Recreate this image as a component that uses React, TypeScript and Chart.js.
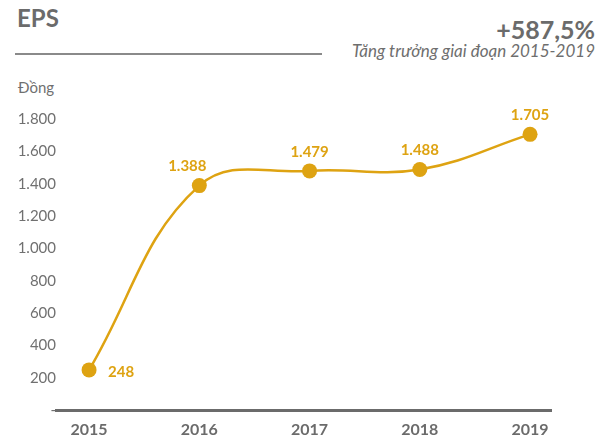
import React, { useEffect, useRef } from "react";
import { Chart, registerables } from "chart.js";
Chart.register(...registerables);

const years = ["2015", "2016", "2017", "2018", "2019"];
const eps = [248, 1388, 1479, 1488, 1705];
const epsLabels = ["248", "1.388", "1.479", "1.488", "1.705"];
const yTicks = [0, 200, 400, 600, 800, 1000, 1200, 1400, 1600, 1800];

const GOLD = "#dea312";
const GRAY = "#6b6b6b";

function fmt(v: number): string {
  if (v === 0) return "-";
  return String(v).replace(/\B(?=(\d{3})+(?!\d))/g, ".");
}

export default function App() {
  const ref = useRef<HTMLCanvasElement>(null);
  useEffect(() => {
    if (!ref.current) return;
    const labelPlugin = {
      id: "valueLabels",
      afterDatasetsDraw(chart: any) {
        const ctx = chart.ctx;
        const meta = chart.getDatasetMeta(0);
        ctx.save();
        ctx.font = "bold 15px Lato";
        ctx.fillStyle = GOLD;
        ctx.textBaseline = "middle";
        meta.data.forEach((pt: any, i: number) => {
          if (i === 0) {
            ctx.textAlign = "left";
            ctx.fillText(epsLabels[i], pt.x + 19, pt.y + 2);
          } else {
            ctx.textAlign = "center";
            const dx = i === 1 ? -12 : 0;
            ctx.fillText(epsLabels[i], pt.x + dx, pt.y - 19);
          }
        });
        ctx.restore();
      },
    };
    const chart = new Chart(ref.current, {
      type: "line",
      data: {
        datasets: [
          {
            data: eps.map((v, i) => ({ x: i, y: v })),
            borderColor: GOLD,
            backgroundColor: GOLD,
            borderWidth: 2.5,
            pointRadius: 7.5,
            pointBackgroundColor: GOLD,
            pointBorderWidth: 0,
            tension: 0.4,
            clip: false as any,
          },
        ],
      },
      options: {
        animation: false,
        responsive: false,
        layout: { padding: { top: 119, right: 57, left: 0, bottom: 0 } },
        plugins: { legend: { display: false }, tooltip: { enabled: false } },
        scales: {
          x: {
            type: "linear",
            min: -0.3,
            max: 4.19,
            grid: { display: false },
            border: { display: true, color: GRAY, width: 3 },
            afterBuildTicks: (s: any) => {
              s.ticks = years.map((_, i) => ({ value: i }));
            },
            afterFit: (s: any) => {
              s.height = 28;
            },
            ticks: {
              padding: 2,
              color: GRAY,
              font: { family: "Lato", size: 16, weight: "bold" },
              callback: (v: any) => years[v] ?? "",
            },
          },
          y: {
            min: 0,
            max: 1800,
            grid: { display: false, drawTicks: false },
            border: { display: false },
            afterBuildTicks: (s: any) => {
              s.ticks = yTicks.map((v) => ({ value: v }));
            },
            afterFit: (s: any) => {
              s.width = 56;
            },
            ticks: {
              padding: 0,
              color: "#707070",
              font: { family: "Lato", size: 15 },
              callback: (v: any) => fmt(Number(v)),
            },
          },
        },
      } as any,
      plugins: [labelPlugin],
    });
    return () => chart.destroy();
  }, []);

  return (
    <div
      style={{
        position: "absolute",
        left: 0,
        top: 0,
        width: 608,
        height: 438,
        background: "#fff",
        fontFamily: "Lato",
        color: GRAY,
      }}
    >
      <div style={{ position: "absolute", left: 17, top: 4, fontSize: 24, fontWeight: "bold", lineHeight: "28px" }}>EPS</div>
      <div style={{ position: "absolute", left: 15, top: 53, width: 307, height: 2, background: "#8a8a8a" }} />
      <div style={{ position: "absolute", right: 13, top: 14, fontSize: 25, fontWeight: "bold", lineHeight: "30px", whiteSpace: "nowrap" }}>+587,5%</div>
      <div style={{ position: "absolute", right: 13, top: 40, fontSize: 17, fontStyle: "italic", lineHeight: "22px", whiteSpace: "nowrap", color: "#6e6e6e" }}>
        Tăng trưởng giai đoạn 2015-2019
      </div>
      <div style={{ position: "absolute", left: 18, top: 77, fontSize: 15, lineHeight: "20px", color: "#707070" }}>Đồng</div>
      <canvas ref={ref} width={608} height={438} style={{ position: "absolute", left: 0, top: 0 }} />
    </div>
  );
}
